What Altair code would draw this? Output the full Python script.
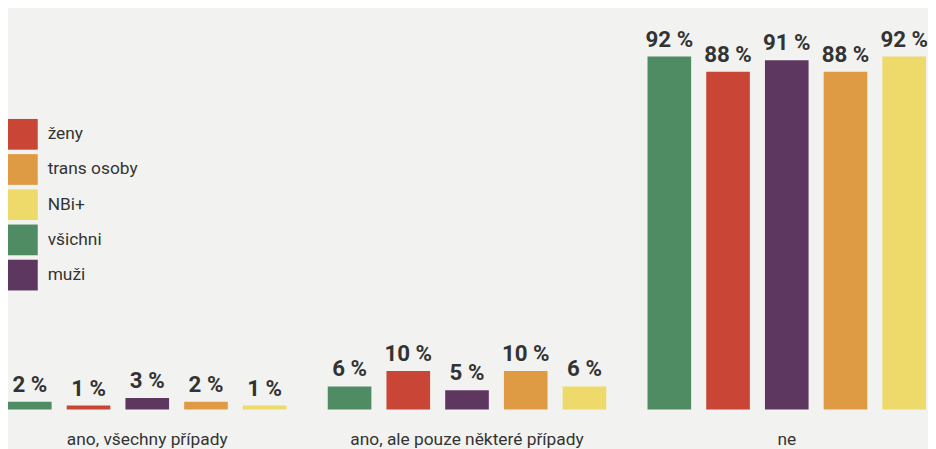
import altair as alt
import pandas as pd

groups = ["ano, všechny případy", "ano, ale pouze některé případy", "ne"]
series = ["všichni", "ženy", "muži", "trans osoby", "NBi+"]
legend_order = ["ženy", "trans osoby", "NBi+", "všichni", "muži"]
legend_colors = ["#c94536", "#df9b44", "#eed96b", "#4f8c63", "#5e3760"]

values = {
    "všichni": [2, 6, 92],
    "ženy": [1, 10, 88],
    "muži": [3, 5, 91],
    "trans osoby": [2, 10, 88],
    "NBi+": [1, 6, 92],
}

rows = []
for s in series:
    for g, v in zip(groups, values[s]):
        rows.append({"skupina": g, "odpověď": s, "hodnota": v, "label": f"{v} %"})
df = pd.DataFrame(rows)

FONT = "Roboto"

x = alt.X("skupina:N", sort=groups, title=None,
          scale=alt.Scale(paddingInner=0.129, paddingOuter=0),
          axis=alt.Axis(domain=False, ticks=False, labelAngle=0, labelFontSize=17.5,
                        labelColor="#333333", labelPadding=35, labelBaseline="alphabetic",
                        labelFont=FONT, labelLimit=0, grid=False))
xo = alt.XOffset("odpověď:N", sort=series,
                 scale=alt.Scale(paddingInner=0.257, paddingOuter=0))
y = alt.Y("hodnota:Q", scale=alt.Scale(domain=[0, 100]), axis=None)

bars = alt.Chart(df).mark_bar().encode(
    x=x, xOffset=xo, y=y,
    color=alt.Color("odpověď:N",
                    scale=alt.Scale(domain=legend_order, range=legend_colors),
                    legend=alt.Legend(title=None, orient="none", legendX=-1, legendY=94,
                                      symbolType="square", symbolSize=961,
                                      symbolStrokeWidth=0, symbolOpacity=1,
                                      rowPadding=4.5, labelOffset=10, labelFontSize=17.5,
                                      labelColor="#333333", labelFont=FONT, padding=0)),
)

labels = alt.Chart(df).mark_text(baseline="alphabetic", dy=-10, fontSize=22.5, fontWeight="bold",
                                 font=FONT, color="#333333").encode(
    x=x, xOffset=xo, y=y, text="label:N"
)

chart = (bars + labels).properties(
    width=926, height=387,
    background="#f2f3f0",
    padding={"left": 0, "top": 16, "right": 2, "bottom": 38},
    autosize=alt.AutoSizeParams(type="none"),
).configure_view(stroke=None)

chart.save("out.html", embed_options={"renderer": "svg", "actions": False})
